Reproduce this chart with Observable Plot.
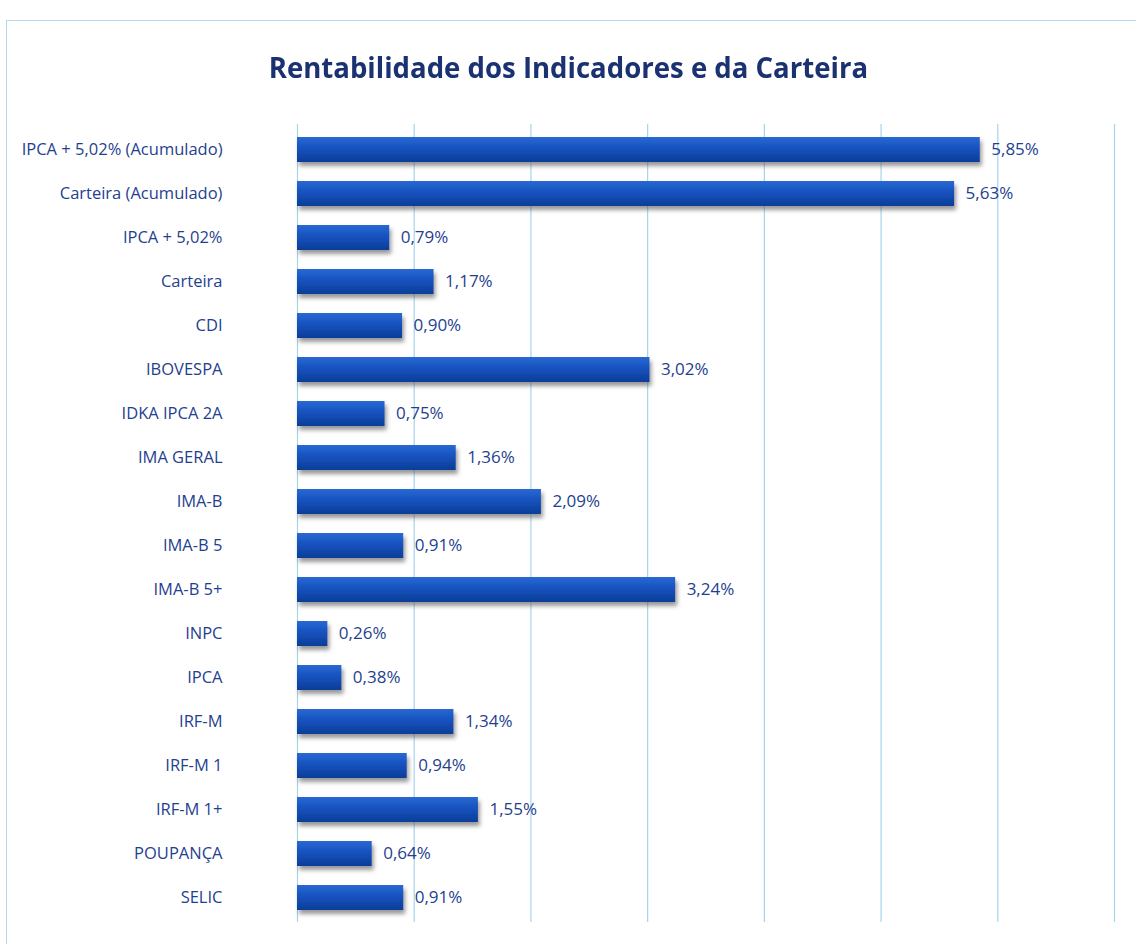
<!DOCTYPE html>
<html>
<head>
<meta charset="utf-8">
<script src="https://cdn.jsdelivr.net/npm/d3@7"></script>
<script src="https://cdn.jsdelivr.net/npm/@observablehq/plot@0.6"></script>
<style>
  html, body { margin: 0; padding: 0; background: #ffffff; }
  #page { position: relative; width: 1136px; height: 944px; overflow: hidden; }
  #frame { position: absolute; left: 6px; top: 20px; width: 1200px; height: 1000px;
           border-left: 1.5px solid #b3d9ee; border-top: 1.5px solid #b3d9ee; box-sizing: border-box; pointer-events: none; }
  #title { height: 100px; box-sizing: border-box; padding-top: 50px; text-align: center; }
  #title span { display: inline-block; transform: scaleX(0.95); transform-origin: center;
           font-family: "Open Sans", sans-serif; font-weight: bold;
           font-size: 29px; line-height: 34px; color: #1b3272; }
  #chart svg { display: block; }
</style>
</head>
<body>
<div id="page">
  <div id="frame"></div>
  <div id="title"><span>Rentabilidade dos Indicadores e da Carteira</span></div>
  <div id="chart"></div>
</div>
<script>
const categories = [
  "IPCA + 5,02% (Acumulado)", "Carteira (Acumulado)", "IPCA + 5,02%", "Carteira",
  "CDI", "IBOVESPA", "IDKA IPCA 2A", "IMA GERAL", "IMA-B", "IMA-B 5", "IMA-B 5+",
  "INPC", "IPCA", "IRF-M", "IRF-M 1", "IRF-M 1+", "POUPANÇA", "SELIC"
];
const values = [5.85, 5.63, 0.79, 1.17, 0.90, 3.02, 0.75, 1.36, 2.09, 0.91, 3.24, 0.26, 0.38, 1.34, 0.94, 1.55, 0.64, 0.91];
const gridTicks = [1, 2, 3, 4, 5, 6, 7];

const data = categories.map((c, i) => ({category: c, value: values[i]}));
const fmt = v => v.toFixed(2).replace(".", ",") + "%";

const defs = () => {
  const d = d3.create("svg:defs");
  const g = d.append("linearGradient").attr("id", "barGrad").attr("x1", 0).attr("y1", 0).attr("x2", 0).attr("y2", 1);
  g.append("stop").attr("offset", "0%").attr("stop-color", "#2a68d2");
  g.append("stop").attr("offset", "45%").attr("stop-color", "#1652be");
  g.append("stop").attr("offset", "100%").attr("stop-color", "#0b3d98");
  const f = d.append("filter").attr("id", "barShadow").attr("x", "-5%").attr("y", "-30%").attr("width", "115%").attr("height", "190%");
  f.append("feDropShadow").attr("dx", 2).attr("dy", 4).attr("stdDeviation", 2)
    .attr("flood-color", "#555").attr("flood-opacity", 0.6);
  return d.node();
};

const font = "'Open Sans', sans-serif";

const chart = Plot.plot({
  width: 1136,
  height: 844,
  marginTop: 24,
  marginBottom: 22,
  marginLeft: 297,
  marginRight: 22,
  style: {fontFamily: font, background: "transparent", color: "#1f3f8f"},
  x: {domain: [0, 7], axis: null},
  y: {domain: categories, paddingInner: 0.436, paddingOuter: 0.215, label: null},
  marks: [
    defs,
    Plot.gridX(gridTicks, {stroke: "#a6d4ec", strokeOpacity: 1, strokeWidth: 1.2}),
    Plot.ruleX([0], {stroke: "#a6d4ec", strokeWidth: 1.2}),
    Plot.barX(data, {x: "value", y: "category", fill: "url(#barGrad)"}),
    Plot.text(data, {x: "value", y: "category", text: d => fmt(d.value), dx: 11, textAnchor: "start",
      fontSize: 17, fill: "#1f3f8f"}),
    Plot.axisY({tickSize: 0, tickPadding: 75, fontSize: 16.5, fill: "#1f3f8f", label: null})
  ]
});
d3.select(chart).selectAll("g[aria-label='bar']").attr("filter", "url(#barShadow)");
document.getElementById("chart").appendChild(chart);
</script>
</body>
</html>
